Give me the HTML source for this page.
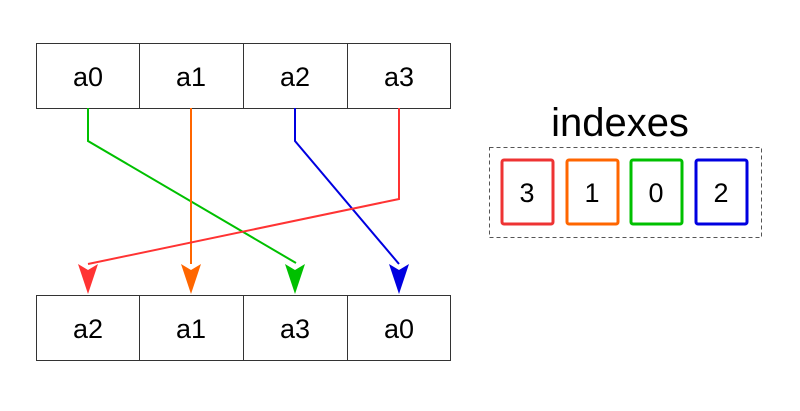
<!DOCTYPE html>
<html><head><style>body{margin:0;background:#fff}</style></head><body>
<svg width="800" height="406" xmlns="http://www.w3.org/2000/svg" font-family="Liberation Sans, sans-serif">
<g fill="none" stroke="#333" stroke-width="1">
<rect x="36.5" y="43.5" width="414" height="65"/>
<line x1="139.5" y1="43" x2="139.5" y2="108"/><line x1="243.5" y1="43" x2="243.5" y2="108"/><line x1="347.5" y1="43" x2="347.5" y2="108"/>
<rect x="36.5" y="295.5" width="414" height="65"/>
<line x1="139.5" y1="295" x2="139.5" y2="360"/><line x1="243.5" y1="295" x2="243.5" y2="360"/><line x1="347.5" y1="295" x2="347.5" y2="360"/>
</g>
<g font-size="27" text-anchor="middle" fill="#000">
<text x="88" y="86">a0</text><text x="191" y="86">a1</text><text x="295" y="86">a2</text><text x="399" y="86">a3</text>
<text x="88" y="338">a2</text><text x="191" y="338">a1</text><text x="295" y="338">a3</text><text x="399" y="338">a0</text>
</g>
<g fill="none" stroke-width="2">
<polyline points="88,108 88,141 296,263" stroke="#00c000"/>
<polyline points="191,108 191,264" stroke="#ff6600"/>
<polyline points="295,108 295,141 399,264" stroke="#0000e0"/>
<polyline points="399,108 399,199 88,264" stroke="#ff3333"/>
</g>
<path d="M78,264 L88,270 L98,264 L88,294Z" fill="#ff3333"/>
<path d="M181,264 L191,270 L201,264 L191,294Z" fill="#ff6600"/>
<path d="M285,264 L295,270 L305,264 L295,294Z" fill="#00c000"/>
<path d="M389,264 L399,270 L409,264 L399,294Z" fill="#0000e0"/>
<text x="620" y="136" font-size="40" text-anchor="middle">indexes</text>
<rect x="489.5" y="147.5" width="272" height="90" fill="none" stroke="#555" stroke-dasharray="4,3"/>
<g fill="none" stroke-width="3">
<rect x="502" y="160" width="51" height="64" rx="2" stroke="#ee3333"/>
<rect x="567" y="160" width="51" height="64" rx="2" stroke="#ff6600"/>
<rect x="631" y="160" width="51" height="64" rx="2" stroke="#00c000"/>
<rect x="696" y="160" width="51" height="64" rx="2" stroke="#0000e0"/>
</g>
<g font-size="27" text-anchor="middle">
<text x="527" y="202">3</text><text x="592" y="202">1</text><text x="656" y="202">0</text><text x="721" y="202">2</text>
</g>
</svg>
</body></html>
